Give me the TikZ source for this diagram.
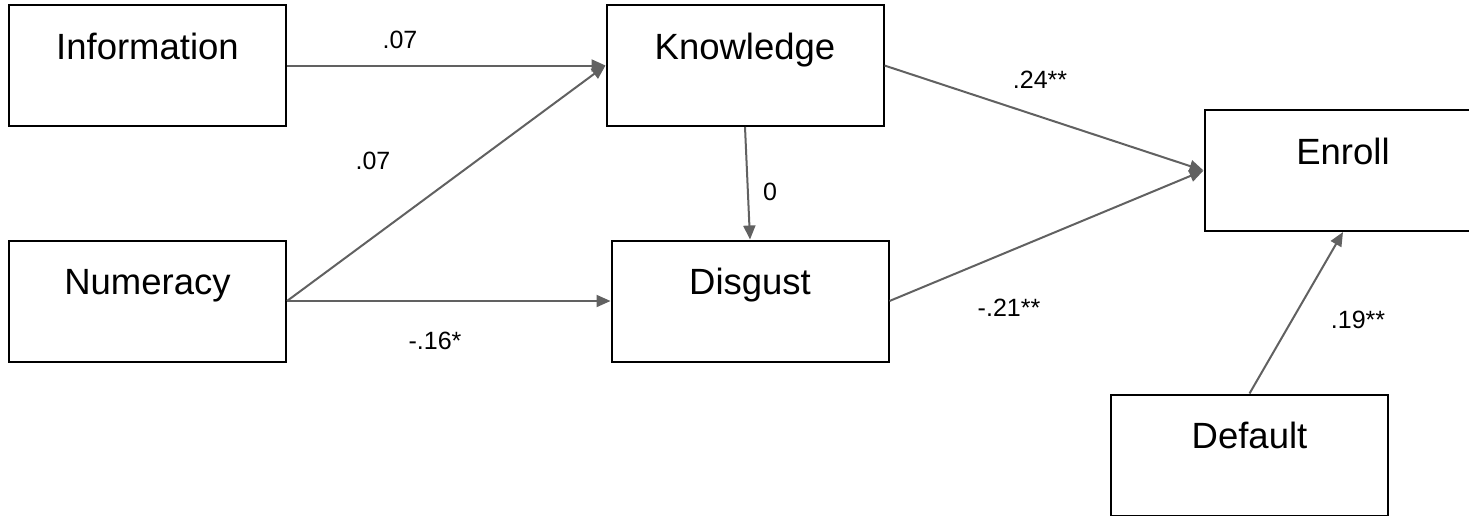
\documentclass[tikz,border=0pt]{standalone}
\usepackage{fontspec}
\setmainfont{Liberation Sans}
\usetikzlibrary{arrows.meta}
\tikzset{
  var/.style={draw=black, line width=2pt, minimum width=277pt, minimum height=121pt,
    inner sep=0pt, fill=white},
  path/.style={draw=black!62, line width=2pt,
    -{Triangle[length=14pt,width=12pt]}},
  coef/.style={font=\fontsize{25}{30}\selectfont, inner sep=0pt},
  vname/.style={font=\fontsize{36.5}{44}\selectfont}
}
% box with its name set in the upper part
\newcommand{\varbox}[3]{%
  \node[var, label={[vname, anchor=base, yshift=-55pt]north:#3}] (#1) at #2 {};}
\begin{document}
\begin{tikzpicture}[x=1pt, y=-1pt]
  \useasboundingbox (0,0) rectangle (1469,515);
  \clip (0,0) rectangle (1469,515);

  \varbox{info}{(147.5,65.5)}{Information}
  \varbox{know}{(745,65.5)}{Knowledge}
  \varbox{enroll}{(1343,170.5)}{Enroll}
  \varbox{num}{(147.5,301)}{Numeracy}
  \varbox{disg}{(750,301)}{Disgust}
  \varbox{default}{(1249.5,455)}{Default}

  % structural paths
  \draw[path] (info.east) -- (know.west);
  \draw[path] (num.east) -- (know.west);
  \draw[path] (num.east) -- (disg.west);
  \draw[path] (know.south) -- (disg.north);
  \draw[path] (know.east) -- (enroll.west);
  \draw[path] (disg.east) -- (enroll.west);
  \draw[path] (default.north) -- (enroll.south);

  % path coefficients
  \node[coef] (c1) at (400,40) {.07};
  \node[coef] (c2) at (373,161) {.07};
  \node[coef] (c3) at (435,341) {-.16*};
  \node[coef] (c4) at (770,192) {0};
  \node[coef] (c5) at (1040,80) {.24**};
  \node[coef] (c6) at (1009,308) {-.21**};
  \node[coef] (c7) at (1358,320) {.19**};
\end{tikzpicture}
\end{document}
